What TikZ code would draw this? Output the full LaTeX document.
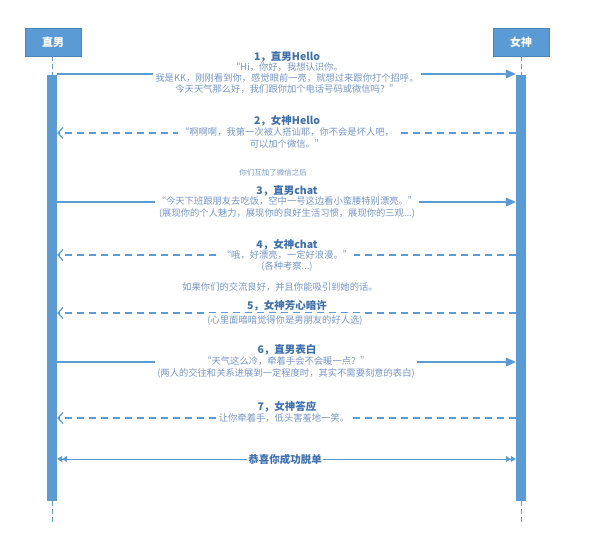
\documentclass[tikz,border=0pt]{standalone}
\usepackage{fontspec}
\setmainfont{Noto Sans CJK SC}
\usetikzlibrary{arrows.meta}
\definecolor{boxblue}{RGB}{91,155,213}
\definecolor{titleblue}{RGB}{62,112,176}
\definecolor{bodyblue}{RGB}{118,150,198}
\begin{document}
\begin{tikzpicture}[x=1pt,y=-1pt,
  actor/.style={draw=boxblue!85!black, fill=boxblue, text=white, font=\bfseries\fontsize{11}{13}\selectfont, minimum width=56pt, minimum height=28pt, inner sep=0pt},
  bar/.style={fill=boxblue, draw=none, minimum width=10pt, inner sep=0pt},
  life/.style={draw=boxblue, line width=1pt, dash pattern=on 5pt off 3pt},
  msgtitle/.style={text=titleblue, font=\bfseries\fontsize{10.5}{12}\selectfont, inner sep=0pt},
  msgbody/.style={text=bodyblue, fill=white, font=\fontsize{9.3}{11.3}\selectfont, align=center, inner sep=2pt},
  notetext/.style={text=bodyblue, font=\fontsize{#1}{11}\selectfont, inner sep=1pt},
  call/.style={draw=boxblue, line width=1.2pt, -{Triangle[length=10pt,width=9pt]}},
  reply/.style={draw=boxblue, line width=1.2pt, dash pattern=on 7pt off 5pt, -{Straight Barb[length=5pt,width=11pt,line width=1.2pt]}},
  final/.style={draw=boxblue, line width=1pt, {Triangle[length=5pt,width=6pt]Triangle[length=5pt,width=6pt]}-{Triangle[length=5pt,width=6pt]Triangle[length=5pt,width=6pt]}}
]
\useasboundingbox[fill=white] (0,0) rectangle (594,540);

% actors and lifelines
\node[actor] (lact) at (53,42) {直男};
\node[actor] (ract) at (521,42) {女神};
\node[bar, minimum height=426pt, anchor=north] (lbar) at (52,75) {};
\node[bar, minimum height=426pt, anchor=north] (rbar) at (521,75) {};
\coordinate (lend) at (52,522);
\coordinate (rend) at (521,522);
\draw[life] (lbar.north |- lact.south) -- (lbar.north);
\draw[life] (rbar.north |- ract.south) -- (rbar.north);
\draw[life] (lbar.south) -- (lend);
\draw[life] (rbar.south) -- (rend);

% message 1
\coordinate (m1) at (0,74);
\draw[call] (lbar.east |- m1) -- (rbar.west |- m1);
\node[msgbody] (b1) at (287,78) {“Hi，你好，我想认识你。\\我是KK，刚刚看到你，感觉眼前一亮，就想过来跟你打个招呼。\\今天天气那么好，我们跟你加个电话号码或微信吗？”};
\node[msgtitle] (t1) at (287,57) {1，直男Hello};

% message 2
\coordinate (m2) at (0,133);
\draw[reply] (rbar.west |- m2) -- (lbar.east |- m2);
\node[msgbody] (b2) at (287,138) {“啊啊啊，我第一次被人搭讪耶，你不会是坏人吧，\\可以加个微信。”};
\node[msgtitle] (t2) at (287,121) {2，女神Hello};

\node[notetext=7.5] (n1) at (273,173) {你们互加了微信之后};

% message 3
\coordinate (m3) at (0,202);
\draw[call] (lbar.east |- m3) -- (rbar.west |- m3);
\node[msgbody] (b3) at (287,207.5) {“今天下班跟朋友去吃饭，空中一号这边看小蛮腰特别漂亮。”\\(展现你的个人魅力，展现你的良好生活习惯，展现你的三观...)};
\node[msgtitle] (t3) at (287,191) {3，直男chat};

% message 4
\coordinate (m4) at (0,255);
\draw[reply] (rbar.west |- m4) -- (lbar.east |- m4);
\node[msgbody] (b4) at (287,261) {“哦，好漂亮，一定好浪漫。”\\(各种考察...)};
\node[msgtitle] (t4) at (287,245) {4，女神chat};

\node[notetext=9.3] (n2) at (280,287) {如果你们的交流良好，并且你能吸引到她的话。};

% message 5
\coordinate (m5) at (0,313);
\draw[reply] (rbar.west |- m5) -- (lbar.east |- m5);
\node[msgbody] (b5) at (285,320) {(心里面暗暗觉得你是男朋友的好人选)};
\node[msgtitle] (t5) at (287,306) {5，女神芳心暗许};

% message 6
\coordinate (m6) at (0,362);
\draw[call] (lbar.east |- m6) -- (rbar.west |- m6);
\node[msgbody] (b6) at (286,367.5) {“天气这么冷，牵着手会不会暖一点？”\\(两人的交往和关系进展到一定程度时，其实不需要刻意的表白)};
\node[msgtitle] (t6) at (287,350) {6，直男表白};

% message 7
\coordinate (m7) at (0,418);
\draw[reply] (rbar.west |- m7) -- (lbar.east |- m7);
\node[msgbody] (b7) at (284,418.5) {让你牵着手，低头害羞地一笑。};
\node[msgtitle] (t7) at (287,407) {7，女神答应};

% final
\coordinate (m8) at (0,459);
\draw[final] (lbar.east |- m8) -- (rbar.west |- m8);
\node[msgbody, text=titleblue, font=\bfseries\fontsize{10.5}{12}\selectfont, inner sep=1pt] (b8) at (285,459) {恭喜你成功脱单};
\end{tikzpicture}
\end{document}
